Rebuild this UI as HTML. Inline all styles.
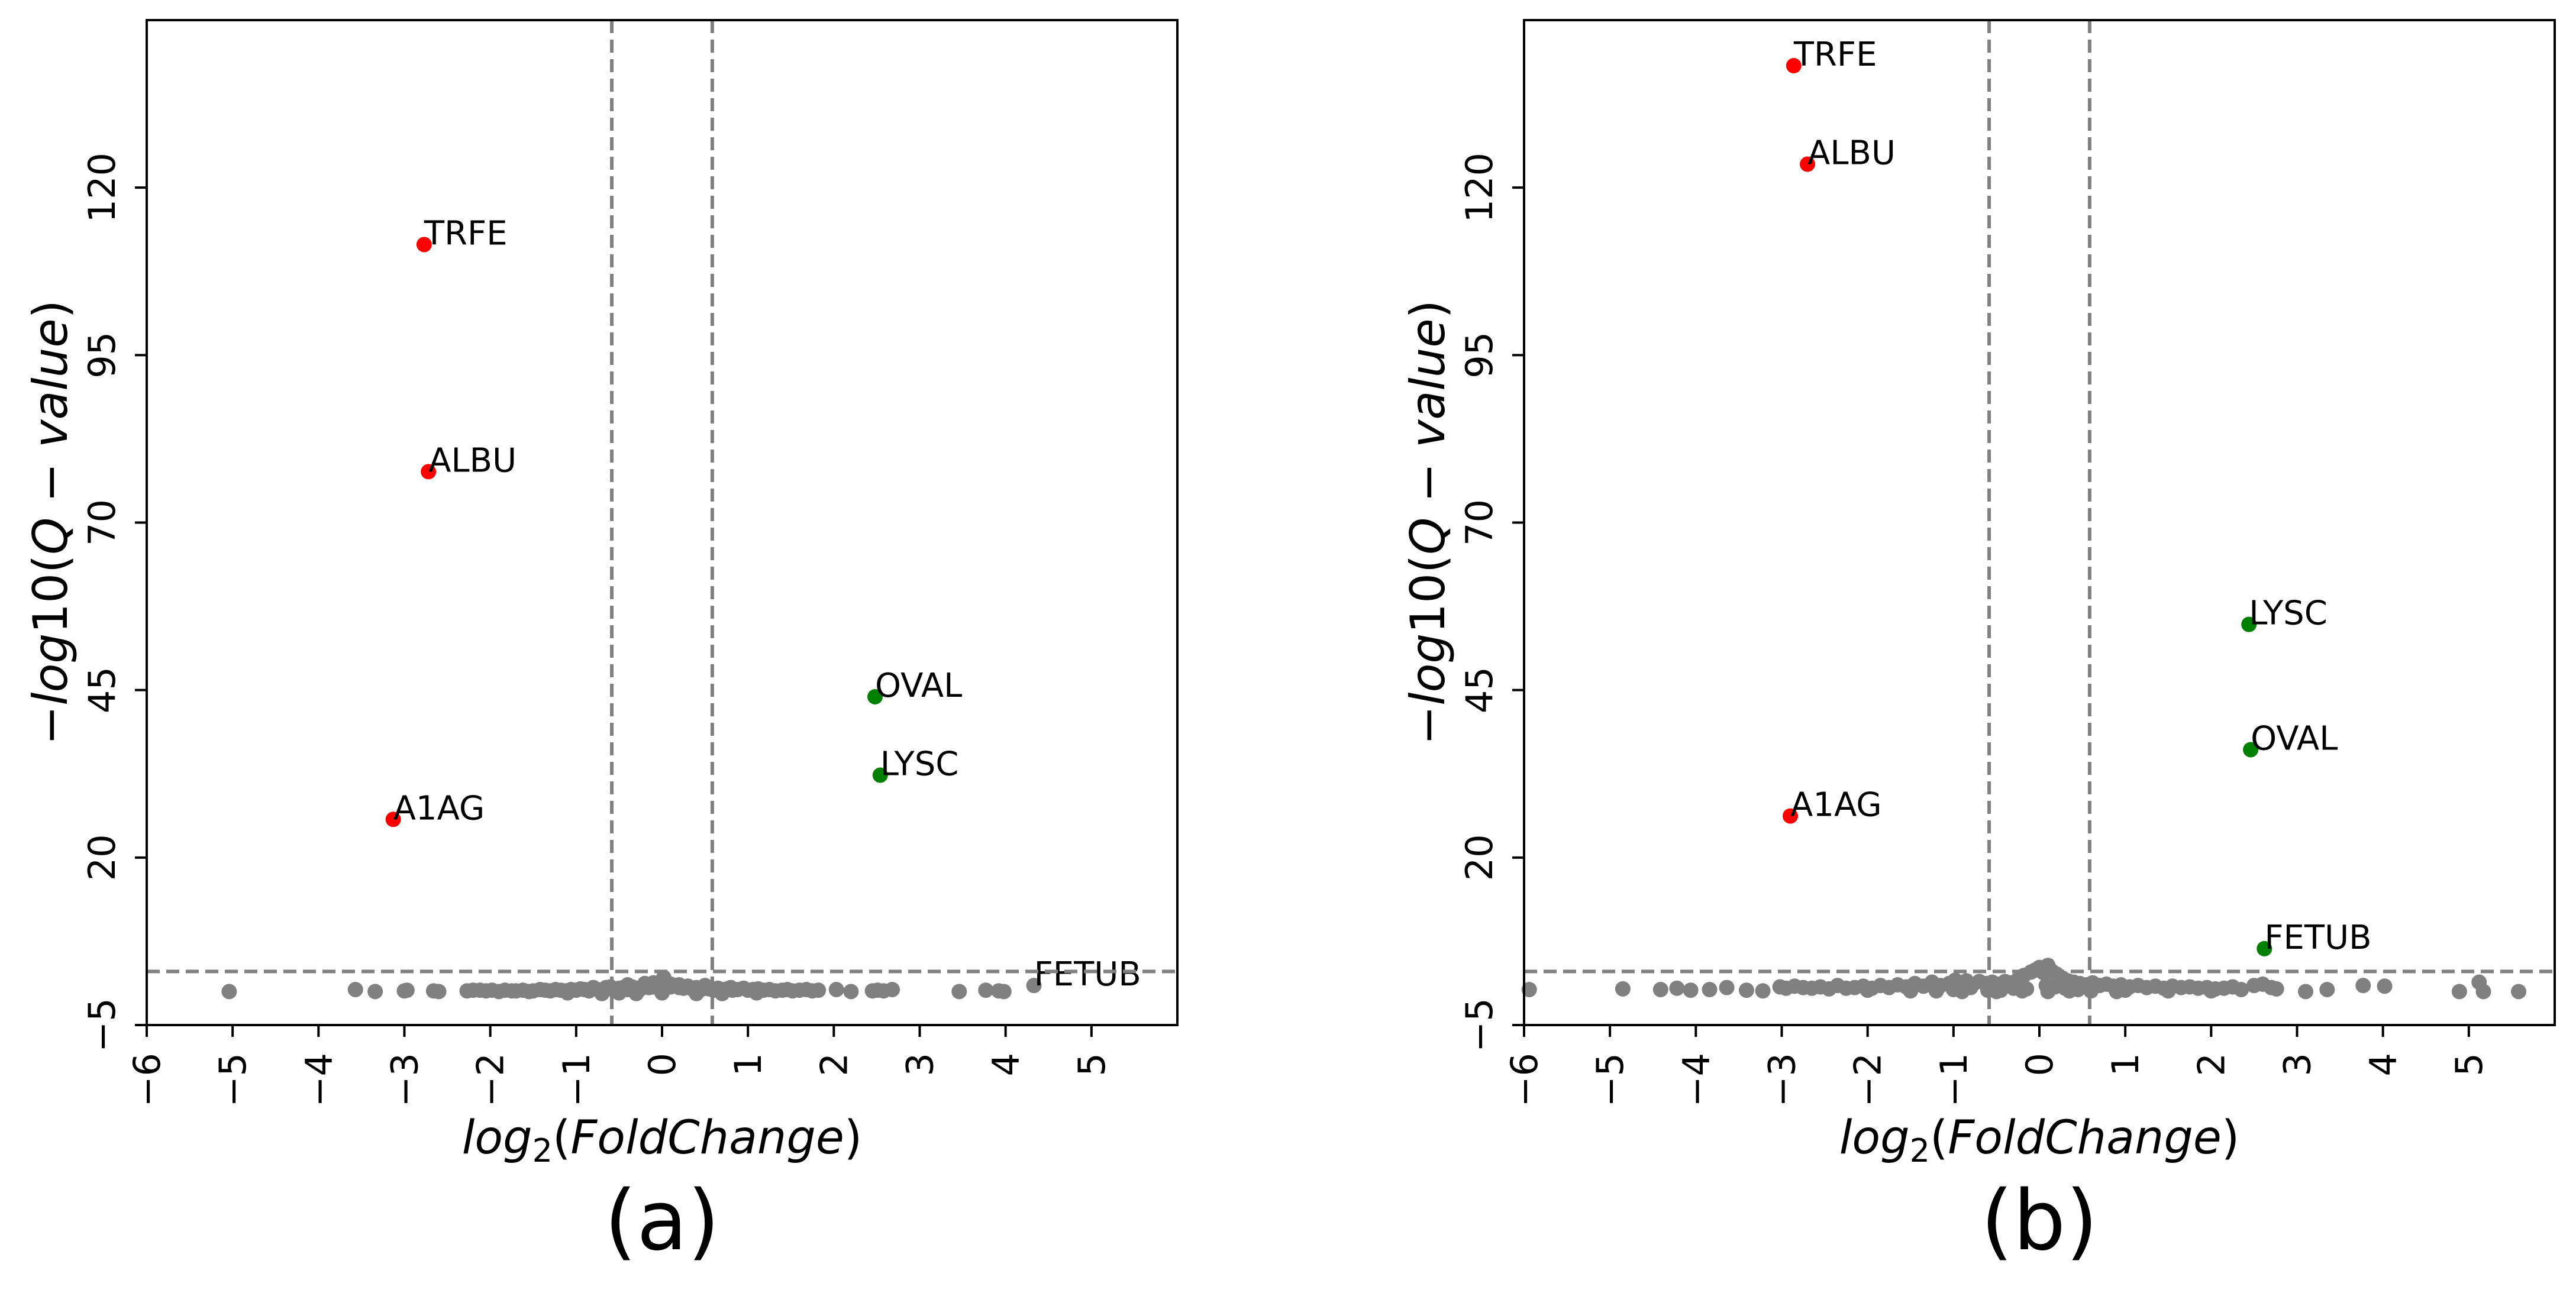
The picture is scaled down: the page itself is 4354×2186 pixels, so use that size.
<!DOCTYPE html>
<html><head><meta charset="utf-8"><title>Volcano plots</title>
<style>
html,body{margin:0;padding:0;background:#fff;}
svg{display:block;font-family:"DejaVu Sans","Liberation Sans",sans-serif;}
</style></head>
<body>
<svg id="fig" width="4354" height="2186" viewBox="0 0 4354 2186" xmlns="http://www.w3.org/2000/svg"></svg>
<script>
// ---- shared axes ----
const xTicks = [-6,-5,-4,-3,-2,-1,0,1,2,3,4,5];
const yTicks = [-5,20,45,70,95,120];
const xDomain = [-6, 6];
const yDomain = [-5, 145];
const fcThreshold = 0.585;
const qThreshold = 3;

// ---- panel (a) data ----
const sigLabelsA = ["TRFE","ALBU","A1AG","OVAL","LYSC"];
const sigXA = [-2.77,-2.72,-3.13,2.48,2.54];
const sigYA = [111.5,77.6,25.7,44.0,32.3];
const sigColorA = ["red","red","red","green","green"];
const grayXA = [-5.04,-3.57,-3.34,-3.0,-2.97,-2.66,-2.6,-2.27,-2.2,-2.12,-2.05,-1.98,-1.9,-1.83,-1.75,-1.7,-1.62,-1.55,-1.5,-1.42,-1.36,-1.3,-1.24,-1.18,-1.12,-1.06,-1.0,-0.95,-0.9,-0.85,-0.8,-0.75,-0.7,-0.65,-0.6,-0.55,-0.5,-0.45,-0.4,-0.35,-0.3,-0.25,-0.2,-0.15,-0.1,-0.05,0.0,0.02,0.05,0.1,0.15,0.2,0.25,0.3,0.35,0.4,0.45,0.5,0.55,0.6,0.65,0.7,0.76,0.82,0.88,0.95,1.0,1.06,1.12,1.18,1.25,1.32,1.4,1.46,1.52,1.6,1.68,1.75,1.82,2.03,2.2,2.45,2.51,2.58,2.68,3.46,3.77,3.92,3.98,-0.4,-0.2,-0.1,0.1,0.2,0.3,-0.6,0.5,-0.8,0.8,-0.5,-0.3,0.0,0.4,-1.1,1.1,-0.7,0.7];
const grayYA = [0.0,0.3,0.0,0.1,0.2,0.1,0.0,0.1,0.2,0.2,0.1,0.2,0.0,0.2,0.1,0.1,0.2,0.0,0.1,0.3,0.2,0.1,0.3,0.2,0.1,0.3,0.2,0.4,0.3,0.1,0.5,0.3,0.2,0.6,0.4,0.2,0.5,0.6,0.3,0.7,0.5,0.4,0.8,0.6,0.7,0.9,1.0,2.1,0.8,0.7,0.9,0.6,0.5,0.7,0.4,0.6,0.3,0.5,0.4,0.2,0.5,0.3,0.4,0.2,0.3,0.5,0.2,0.3,0.4,0.2,0.3,0.1,0.2,0.3,0.1,0.2,0.3,0.1,0.2,0.3,0.0,0.1,0.2,0.1,0.3,0.0,0.2,0.1,0.0,1.0,1.2,1.3,1.1,1.0,0.8,0.7,0.9,0.6,0.6,-0.2,-0.3,-0.2,-0.3,-0.2,-0.2,-0.3,-0.3];
const grayLabelsA = ["FETUB"];
const grayLabelXA = [4.33];
const grayLabelYA = [0.9];

// ---- panel (b) data ----
const sigLabelsB = ["TRFE","ALBU","A1AG","LYSC","OVAL","FETUB"];
const sigXB = [-2.86,-2.70,-2.90,2.44,2.46,2.62];
const sigYB = [138.2,123.5,26.2,54.8,36.1,6.4];
const sigColorB = ["red","red","red","green","green","green"];
const grayXB = [-5.94,-4.85,-4.41,-4.22,-4.06,-3.84,-3.64,-3.41,-3.22,-3.02,-2.95,-2.85,-2.75,-2.65,-2.55,-2.45,-2.35,-2.25,-2.15,-2.05,-1.95,-1.85,-1.75,-1.65,-1.55,-1.45,-1.35,-1.25,-1.15,-1.05,-0.98,-0.9,-0.85,-0.78,-0.7,-0.62,-0.55,-0.48,-0.4,-0.33,-0.25,-0.18,-0.1,-0.05,0.0,0.05,0.1,0.15,0.2,0.27,0.33,0.4,0.47,0.55,0.62,0.7,0.78,0.86,0.95,1.05,1.15,1.25,1.35,1.45,1.55,1.65,1.75,1.85,1.95,2.05,2.15,2.25,2.35,2.5,2.6,2.7,2.76,3.1,3.35,3.77,4.02,4.89,5.12,5.17,5.58,-1.0,-0.8,-0.6,-0.3,-0.15,0.08,0.18,0.3,0.45,-0.45,0.6,-1.2,1.0,-2.0,2.0,-0.5,-0.2,0.1,0.35,-0.9,0.9,-1.5,1.5];
const grayYB = [0.3,0.4,0.3,0.5,0.2,0.3,0.6,0.2,0.1,0.7,0.5,0.8,0.6,0.5,0.7,0.4,0.9,0.5,0.6,0.8,0.5,0.9,0.6,1.0,0.7,1.2,0.8,1.4,0.9,1.2,1.7,1.1,1.6,1.0,1.5,1.2,1.4,1.1,1.5,1.3,1.8,2.4,2.9,3.2,3.6,2.8,3.9,3.0,2.6,2.0,1.6,1.4,1.2,1.0,1.3,0.9,1.1,0.8,1.0,0.7,0.9,0.6,0.8,0.5,0.8,0.6,0.7,0.5,0.6,0.4,0.5,0.7,0.3,0.9,1.1,0.6,0.4,0.0,0.3,0.9,0.8,0.0,1.4,0.0,0.0,0.3,0.6,0.2,0.5,0.4,0.9,0.7,0.5,0.3,0.2,0.1,0.1,0.2,0.2,0.1,0.0,0.1,0.0,0.1,0.0,0.0,0.1,0.1];

const SVGNS = "http://www.w3.org/2000/svg";
const svg = document.getElementById('fig');
function mk(tag, attrs, parent){
  const e = document.createElementNS(SVGNS, tag);
  for (const k in attrs) e.setAttribute(k, attrs[k]);
  (parent||svg).appendChild(e);
  return e;
}

const TOP = 34, BOTTOM = 1733, PW = 1742, R = 13;
function drawPanel(left, caption, sigLabels, sigX, sigY, sigColor, grayX, grayY, gLabels, gLX, gLY){
  const right = left + PW;
  const sx = v => left + (v - xDomain[0]) / (xDomain[1]-xDomain[0]) * PW;
  const sy = v => BOTTOM - (v - yDomain[0]) / (yDomain[1]-yDomain[0]) * (BOTTOM-TOP);
  const g = mk('g', {});
  
  

  const pts = mk('g', {fill:'#808080'}, g);
  
  
  for (let i=0;i<grayX.length;i++){
    const c = mk('circle', {cx:sx(grayX[i]), cy:sy(grayY[i]), r:R}, pts);
    
    
  }
  for (let i=0;i<gLabels.length;i++){
    const c = mk('circle', {cx:sx(gLX[i]), cy:sy(gLY[i]), r:R, fill:'#808080'}, g);
    
    
    const t = mk('text', {x:sx(gLX[i]), y:sy(gLY[i]), 'font-size':56, fill:'#000'}, g);
    t.textContent = gLabels[i];
    
    
  }

  const dash = {stroke:'#808080', 'stroke-width':6, 'stroke-dasharray':'22 11', fill:'none'};
  const h = mk('line', Object.assign({x1:left, x2:right, y1:sy(qThreshold), y2:sy(qThreshold)}, dash), g);
  
  
  [-fcThreshold, fcThreshold].forEach(v => {
    const l = mk('line', Object.assign({x1:sx(v), x2:sx(v), y1:TOP, y2:BOTTOM}, dash), g);
    
    
  });

  for (let i=0;i<sigLabels.length;i++){
    const col = sigColor[i] === 'red' ? '#ff0000' : '#008000';
    const c = mk('circle', {cx:sx(sigX[i]), cy:sy(sigY[i]), r:R, fill:col}, g);
    
    
    const t = mk('text', {x:sx(sigX[i]), y:sy(sigY[i]), 'font-size':56, fill:'#000'}, g);
    t.textContent = sigLabels[i];
    
    
  }

  const fr = mk('rect', {x:left, y:TOP, width:PW, height:BOTTOM-TOP, fill:'none', stroke:'#000', 'stroke-width':4}, g);
  
  

  xTicks.forEach(v => {
    const x = sx(v);
    const tk = mk('line', {x1:x, x2:x, y1:BOTTOM, y2:BOTTOM+20, stroke:'#000', 'stroke-width':4}, g);
    
    
    const t = mk('text', {transform:`translate(${x+22},1780) rotate(-90)`, 'text-anchor':'end', 'font-size':62, fill:'#000'}, g);
    t.textContent = v < 0 ? '\u2212' + Math.abs(v) : String(v);
    
    
  });
  yTicks.forEach(v => {
    const y = sy(v);
    const tk = mk('line', {x1:left-20, x2:left, y1:y, y2:y, stroke:'#000', 'stroke-width':4}, g);
    
    
    const t = mk('text', {transform:`translate(${left-54},${y}) rotate(-90)`, 'text-anchor':'middle', 'font-size':62, fill:'#000'}, g);
    t.textContent = v < 0 ? '\u2212' + Math.abs(v) : String(v);
    
    
  });

  const cx = left + PW/2;
  const xt = mk('text', {x:cx, y:1950, 'text-anchor':'middle', 'font-size':78, fill:'#000'}, g);
  xt.innerHTML = '<tspan font-style="italic">log</tspan><tspan font-size="54" dy="14">2</tspan><tspan dy="-14">(</tspan><tspan font-style="italic">FoldChange</tspan>)';
  
  
  const yt = mk('text', {transform:`translate(${left-135},${(TOP+BOTTOM)/2}) rotate(-90)`, 'text-anchor':'middle', 'font-size':80, fill:'#000'}, g);
  yt.innerHTML = '\u2212<tspan font-style="italic">log</tspan>10(<tspan font-style="italic">Q</tspan> \u2212 <tspan font-style="italic">value</tspan>)';
  
  
  const cap = mk('text', {x:cx, y:2112, 'text-anchor':'middle', 'font-size':140, fill:'#000'}, g);
  cap.textContent = '(' + caption + ')';
  
  
}

drawPanel(248, 'a', sigLabelsA, sigXA, sigYA, sigColorA, grayXA, grayYA, grayLabelsA, grayLabelXA, grayLabelYA);
drawPanel(2576, 'b', sigLabelsB, sigXB, sigYB, sigColorB, grayXB, grayYB, [], [], []);
</script>
</body></html>
